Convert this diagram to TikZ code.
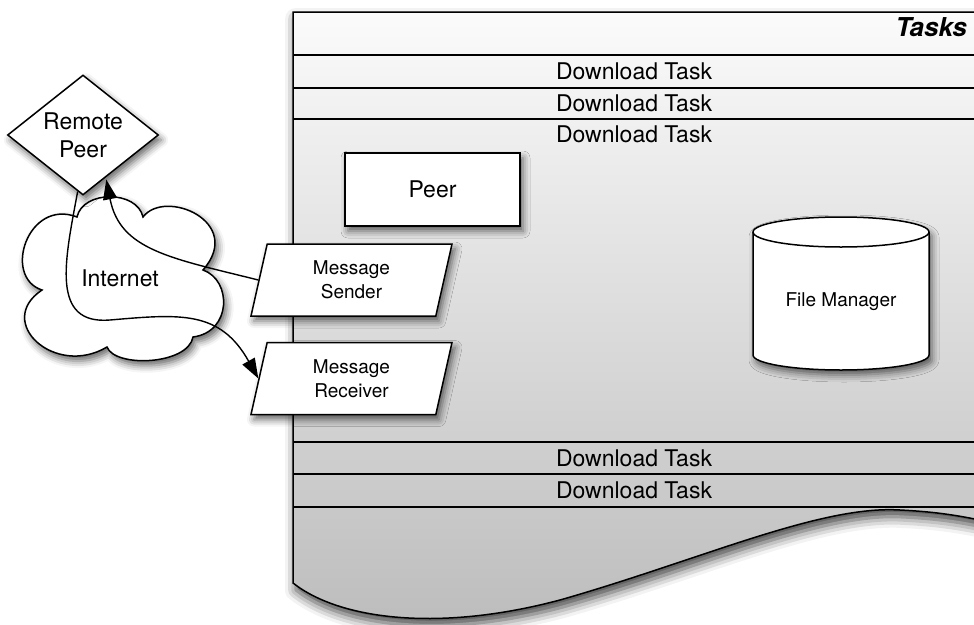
\documentclass[tikz,border=0pt]{standalone}
\usepackage{fontspec}
\setmainfont{TeX Gyre Heros}
\usetikzlibrary{shapes.geometric,arrows.meta,shadows.blur,calc}

\definecolor{docTop}{HTML}{FBFBFB}
\definecolor{docBottom}{HTML}{BCBCBC}

\begin{document}
\begin{tikzpicture}[x=1pt,y=-1pt,
  outline/.style={draw=black, line width=1.5pt},
  soft shadow/.style={blur shadow={shadow xshift=3pt, shadow yshift=-5pt,
      shadow blur radius=7pt, shadow opacity=60}},
  body/.style={outline, fill=white, soft shadow},
  rowtext/.style={font=\fontsize{23}{27}\selectfont, inner sep=0pt},
  smalltext/.style={font=\fontsize{19}{24}\selectfont, align=center},
  largetext/.style={font=\fontsize{23}{28}\selectfont, align=center},
  link/.style={draw=black, line width=1.4pt, -{Triangle[length=20pt,width=14pt]}},
]
\useasboundingbox (0,0) rectangle (974,624);
\clip (0,0) rectangle (974,624);

% Task list sheet with wavy lower edge
\path[outline, blur shadow={shadow xshift=3pt, shadow yshift=-7pt,
      shadow blur radius=11pt, shadow opacity=75},
      top color=docTop, bottom color=docBottom]
  (293,12) -- (990,12) -- (990,522)
  .. controls (960,516) and (940,512) .. (900,510)
  .. controls (820,505) and (700,560) .. (560,600)
  .. controls (440,632) and (340,620) .. (293,583) -- cycle;

% row separators
\foreach \y in {55,88,119,442,474,507}
  \draw[outline] (293,\y) -- (990,\y);

\node[font=\fontsize{26}{30}\bfseries\itshape\selectfont, inner sep=0pt,
      anchor=east] (tasks) at (967,27.5) {Tasks};
\node[rowtext] (task1) at (634,71) {Download Task};
\node[rowtext] (task2) at (634,103) {Download Task};
\node[rowtext] (task3) at (634,134) {Download Task};
\node[rowtext] (task4) at (634,458) {Download Task};
\node[rowtext] (task5) at (634,490) {Download Task};

% peer
\node[body, minimum width=175, minimum height=73, largetext] (peer)
  at (432.5,189.5) {Peer};

% file manager cylinder
\path[body] (753,232) -- (753,355)
  arc[start angle=180, end angle=0, x radius=88, y radius=15]
  -- (929,232)
  arc[start angle=0, end angle=-180, x radius=88, y radius=15] -- cycle;
\draw[outline] (753,232) arc[start angle=180, end angle=0, x radius=88, y radius=15];
\node[smalltext] (fm) at (841,302) {File Manager};

% internet cloud
\path[body] (42,290)
  .. controls (2,277) and (28,198) .. (77,217)
  .. controls (83,190) and (137,190) .. (143,217)
  .. controls (165,188) and (245,222) .. (203,270)
  .. controls (232,280) and (232,332) .. (193,337)
  .. controls (188,365) and (115,368) .. (107,347)
  .. controls (55,378) and (-6,322) .. (42,290) -- cycle;
\node[largetext] (net) at (120,278) {Internet};

% remote peer
\node[body, diamond, aspect=1.25, inner sep=0pt, minimum width=151,
      minimum height=120, largetext] (remote) at (83,135) {Remote\\Peer};

% message sender / receiver
\tikzset{msgbox/.style={body, trapezium, trapezium left angle=67,
    trapezium right angle=113, trapezium stretches body, inner sep=0pt,
    minimum width=201, minimum height=72, smalltext}}
\node[msgbox] (sender) at (351.5,280) {Message\\Sender};
\node[msgbox] (receiver) at (351.5,378.5) {Message\\Receiver};

% connectors
\draw[link, shorten >=2pt] (sender.west)
  .. controls (170,258) and (120,250) ..
  ($(remote.south)!0.3!(remote.east)$);
\draw[link] ($(remote.south)!0.07!(remote.west)$)
  .. controls (65,260) and (50,325) .. (110,320)
  .. controls (180,314) and (220,310) .. (receiver.west);
\end{tikzpicture}
\end{document}
